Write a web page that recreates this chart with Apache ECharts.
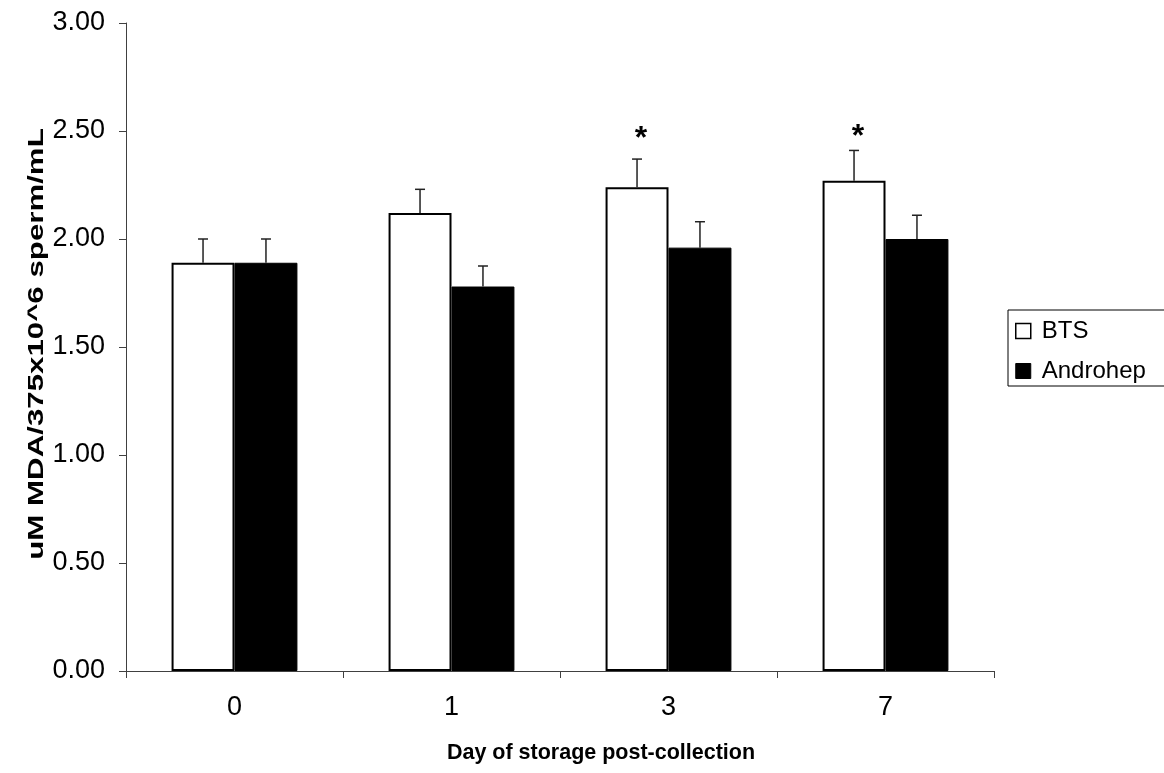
<!DOCTYPE html>
<html>
<head>
<meta charset="utf-8">
<script src="https://cdn.jsdelivr.net/npm/echarts@6/dist/echarts.min.js"></script>
<style>html,body{margin:0;padding:0;background:#fff;}#c{width:1164px;height:773px;}</style>
</head>
<body>
<div id="c"></div>
<script>
var categories = ['0', '1', '3', '7'];
var btsValues = [1.89, 2.12, 2.24, 2.27];
var btsErrors = [0.11, 0.11, 0.13, 0.14];
var androhepValues = [1.89, 1.78, 1.96, 2.00];
var androhepErrors = [0.11, 0.095, 0.12, 0.11];
var significance = ['', '', '*', '*'];
var significanceLevel = [0, 0, 2.49, 2.50];
var yTicks = [0, 0.5, 1, 1.5, 2, 2.5, 3];
var yAxisTitle = 'uM MDA/375x10^6 sperm/mL';
var xAxisTitle = 'Day of storage post-collection';

var FONT = 'Liberation Sans, Arial, sans-serif';
var CAT_GAP = 0.42;

function errorSeries(name, values, errors, side) {
  return {
    type: 'custom',
    name: name + ' error',
    z: 5,
    silent: true,
    data: values.map(function (v, i) { return [i, v, v + errors[i]]; }),
    renderItem: function (params, api) {
      var band = api.size([1, 0])[0];
      var off = side * band * (1 - CAT_GAP) / 4;
      var p0 = api.coord([api.value(0), api.value(1)]);
      var p1 = api.coord([api.value(0), api.value(2)]);
      var x = p0[0] + off;
      var stroke = { stroke: '#222', lineWidth: 1.5 };
      return {
        type: 'group',
        children: [
          { type: 'line', shape: { x1: x, y1: p0[1], x2: x, y2: p1[1] }, style: stroke },
          { type: 'line', shape: { x1: x - 5, y1: p1[1], x2: x + 5, y2: p1[1] }, style: stroke }
        ]
      };
    }
  };
}

var chart = echarts.init(document.getElementById('c'));
chart.setOption({
  animation: false,
  backgroundColor: '#fff',
  grid: { left: 126, right: 170, top: 23, bottom: 102, containLabel: false },
  graphic: [
    {
      type: 'text',
      x: 37, y: 344,
      rotation: Math.PI / 2,
      scaleX: 1.42,
      style: {
        text: yAxisTitle, fill: '#000',
        font: 'bold 22px ' + FONT,
        textAlign: 'center', textVerticalAlign: 'middle'
      }
    }
  ],
  legend: {
    orient: 'vertical',
    left: 1008,
    top: 310,
    padding: [9, 30, 3, 7],
    itemGap: 16,
    itemWidth: 15,
    itemHeight: 15,
    borderColor: '#000',
    borderWidth: 1,
    textStyle: { fontFamily: FONT, fontSize: 24, color: '#000', padding: [0, 0, 0, 6] },
    data: [
      { name: 'BTS', icon: 'rect', itemStyle: { color: '#fff', borderColor: '#000', borderWidth: 1.5 } },
      { name: 'Androhep', icon: 'rect', itemStyle: { color: '#000', borderColor: '#000', borderWidth: 1 } }
    ]
  },
  xAxis: {
    type: 'category',
    data: categories,
    boundaryGap: true,
    name: xAxisTitle,
    nameLocation: 'middle',
    nameGap: 71,
    nameTextStyle: { fontFamily: FONT, fontSize: 21.5, fontWeight: 'bold', color: '#000', padding: [0, 0, 0, 82] },
    axisLine: { lineStyle: { color: '#404040', width: 1 } },
    axisTick: { show: true, length: 7, inside: false, lineStyle: { color: '#404040' } },
    axisLabel: { fontFamily: FONT, fontSize: 27, color: '#000', margin: 23 }
  },
  yAxis: {
    type: 'value',
    min: yTicks[0],
    max: yTicks[yTicks.length - 1],
    interval: yTicks[1] - yTicks[0],
    splitLine: { show: false },
    axisLine: { show: true, lineStyle: { color: '#404040', width: 1 } },
    axisTick: { show: true, length: 7, lineStyle: { color: '#404040' } },
    axisLabel: {
      fontFamily: FONT, fontSize: 27, color: '#000', margin: 21,
      formatter: function (v) { return v.toFixed(2); }
    }
  },
  series: [
    {
      name: 'BTS', type: 'bar', data: btsValues,
      barGap: '0%', barCategoryGap: (CAT_GAP * 100) + '%',
      itemStyle: { color: '#fff', borderColor: '#000', borderWidth: 2 }
    },
    {
      name: 'Androhep', type: 'bar', data: androhepValues,
      barGap: '0%', barCategoryGap: (CAT_GAP * 100) + '%',
      itemStyle: { color: '#000', borderColor: '#000', borderWidth: 1 }
    },
    errorSeries('BTS', btsValues, btsErrors, -1),
    errorSeries('Androhep', androhepValues, androhepErrors, 1),
    {
      type: 'custom',
      name: 'significance',
      z: 6,
      silent: true,
      data: significanceLevel.map(function (v, i) { return [i, v]; }),
      renderItem: function (params, api) {
        var band = api.size([1, 0])[0];
        var off = -band * (1 - CAT_GAP) / 4;
        var p = api.coord([api.value(0), api.value(1)]);
        var mark = significance[params.dataIndex];
        return {
          type: 'text',
          x: p[0] + off + 4,
          y: p[1] + 6,
          style: {
            text: mark, fill: '#000',
            font: 'bold 32px ' + FONT,
            textAlign: 'center', textVerticalAlign: 'middle'
          }
        };
      }
    }
  ]
});
</script>
</body>
</html>
